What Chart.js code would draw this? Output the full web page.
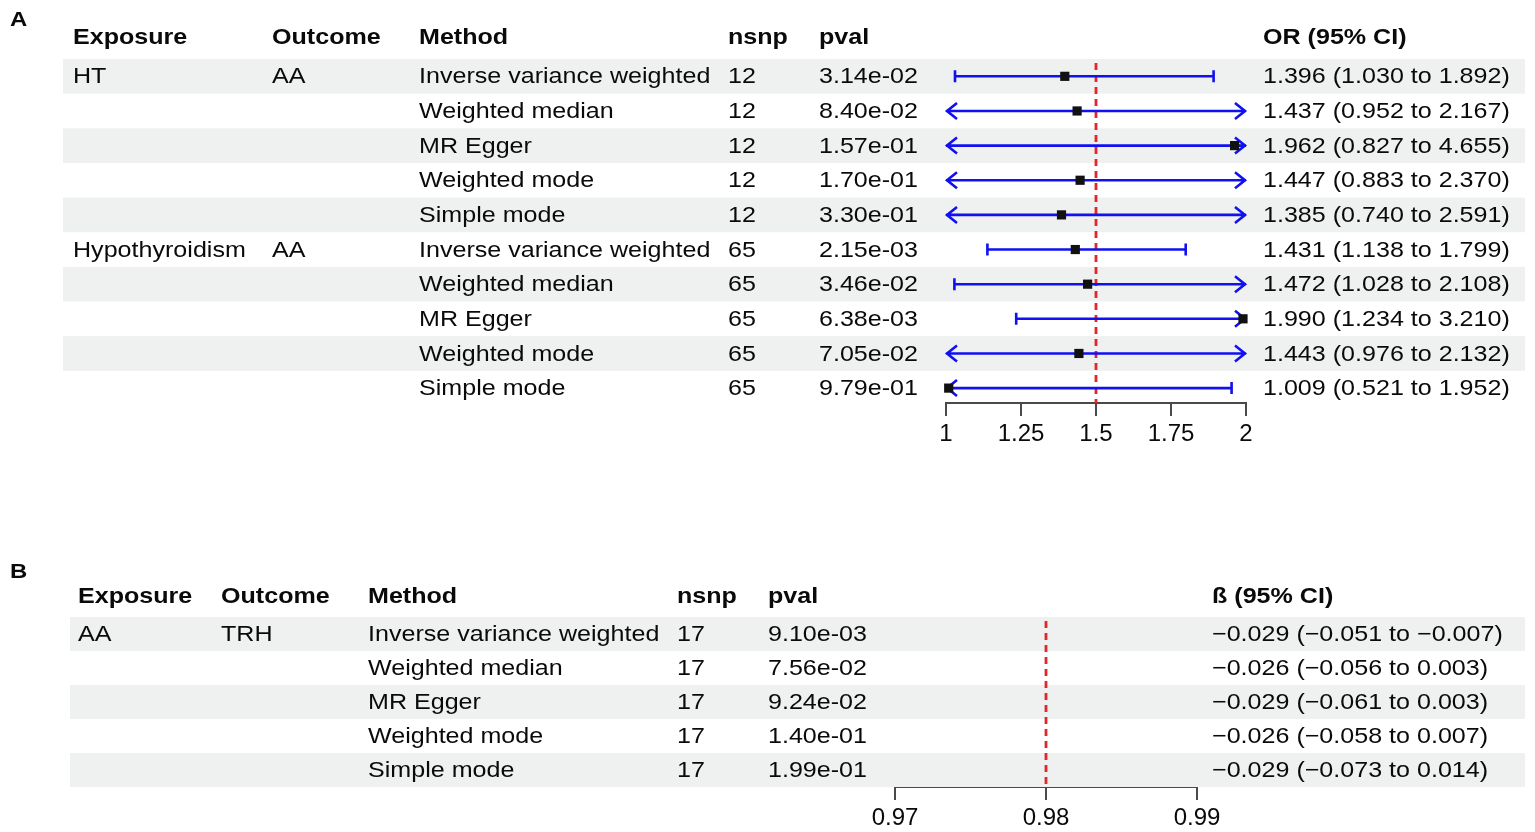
<!DOCTYPE html>
<html>
<head>
<meta charset="utf-8">
<script src="https://cdn.jsdelivr.net/npm/chart.js@4.4.1/dist/chart.umd.min.js"></script>
<style>
  html, body { margin: 0; padding: 0; background: #fff; }
  body { width: 1535px; height: 832px; position: relative; overflow: hidden; }
  canvas { position: absolute; left: 0; }
  #chartA { top: 0; }
  #chartB { top: 560px; }
</style>
</head>
<body>
<canvas id="chartA" width="1535" height="460"></canvas>
<canvas id="chartB" width="1535" height="272"></canvas>
<script>
// Panel A data
const methods = ['Inverse variance weighted', 'Weighted median', 'MR Egger', 'Weighted mode', 'Simple mode'];
const exposureA = ['HT', '', '', '', '', 'Hypothyroidism', '', '', '', ''];
const outcomeA = ['AA', '', '', '', '', 'AA', '', '', '', ''];
const nsnpA = [12, 12, 12, 12, 12, 65, 65, 65, 65, 65];
const pvalA = ['3.14e-02', '8.40e-02', '1.57e-01', '1.70e-01', '3.30e-01',
               '2.15e-03', '3.46e-02', '6.38e-03', '7.05e-02', '9.79e-01'];
const orA = [1.396, 1.437, 1.962, 1.447, 1.385, 1.431, 1.472, 1.990, 1.443, 1.009];
const loA = [1.030, 0.952, 0.827, 0.883, 0.740, 1.138, 1.028, 1.234, 0.976, 0.521];
const hiA = [1.892, 2.167, 4.655, 2.370, 2.591, 1.799, 2.108, 3.210, 2.132, 1.952];
const ticksA = [1, 1.25, 1.5, 1.75, 2];
const tickLabelsA = ['1', '1.25', '1.5', '1.75', '2'];
const refA = 1.5;

// Panel B data
const exposureB = ['AA', '', '', '', ''];
const outcomeB = ['TRH', '', '', '', ''];
const nsnpB = [17, 17, 17, 17, 17];
const pvalB = ['9.10e-03', '7.56e-02', '9.24e-02', '1.40e-01', '1.99e-01'];
const betaB = [-0.029, -0.026, -0.029, -0.026, -0.029];
const loB = [-0.051, -0.056, -0.061, -0.058, -0.073];
const hiB = [-0.007, 0.003, 0.003, 0.007, 0.014];
const ticksB = [0.97, 0.98, 0.99];
const tickLabelsB = ['0.97', '0.98', '0.99'];
const refB = 0.98;

const FONT = '"Liberation Sans", Arial, Helvetica, sans-serif';
const SX = 1.14;   // the figure is a bit stretched sideways

function fmt(v) {
  return v.toFixed(3).replace('-', '\u2212');
}

function txt(ctx, s, x, y, bold, size) {
  ctx.save();
  ctx.font = (bold ? 'bold ' : '') + (size || 22) + 'px ' + FONT;
  ctx.fillStyle = '#0a0a0a';
  ctx.textBaseline = 'middle';
  ctx.textAlign = 'left';
  ctx.translate(x, y);
  ctx.scale(SX, 1);
  ctx.fillText(s, 0, 0);
  ctx.restore();
}

// table + whiskers, drawn around the library's scales
function forestPlugin(cfg) {
  return {
    id: 'forest',
    beforeDatasetsDraw(chart) {
      const ctx = chart.ctx;
      const x = chart.scales.x, y = chart.scales.y;
      const pitch = Math.abs(y.getPixelForValue(1) - y.getPixelForValue(0));
      // stripes
      ctx.save();
      ctx.fillStyle = '#eef1ef';
      for (let i = 0; i < cfg.rows; i += 2) {
        const py = y.getPixelForValue(i);
        ctx.fillRect(cfg.stripeLeft, py - pitch / 2, 1525 - cfg.stripeLeft, pitch);
      }
      ctx.restore();

      // reference line
      const rx = x.getPixelForValue(cfg.ref);
      ctx.save();
      ctx.strokeStyle = '#e3262a';
      ctx.lineWidth = 2.8;
      ctx.setLineDash([7, 5]);
      ctx.beginPath();
      ctx.moveTo(rx, chart.chartArea.top + 4);
      ctx.lineTo(rx, chart.chartArea.bottom);
      ctx.stroke();
      ctx.restore();

      // confidence intervals
      ctx.save();
      ctx.strokeStyle = '#1010f0';
      ctx.lineWidth = 2.6;
      for (let i = 0; i < cfg.rows; i++) {
        const lo = cfg.lo[i], hi = cfg.hi[i];
        if (hi < x.min || lo > x.max) continue;
        const py = y.getPixelForValue(i);
        const x0 = x.getPixelForValue(Math.max(lo, x.min));
        const x1 = x.getPixelForValue(Math.min(hi, x.max));
        ctx.beginPath();
        ctx.moveTo(x0, py);
        ctx.lineTo(x1, py);
        if (lo < x.min) {
          ctx.moveTo(x0 + 11, py - 8); ctx.lineTo(x0 + 1, py); ctx.lineTo(x0 + 11, py + 8);
        } else {
          ctx.moveTo(x0, py - 6); ctx.lineTo(x0, py + 6);
        }
        if (hi > x.max) {
          ctx.moveTo(x1 - 11, py - 8); ctx.lineTo(x1 - 1, py); ctx.lineTo(x1 - 11, py + 8);
        } else {
          ctx.moveTo(x1, py - 6); ctx.lineTo(x1, py + 6);
        }
        ctx.stroke();
      }
      ctx.restore();
    },
    afterDraw(chart) {
      const ctx = chart.ctx;
      const y = chart.scales.y;
      const c = cfg.cols;
      txt(ctx, cfg.panel, 10, cfg.panelY, true, 21);
      txt(ctx, 'Exposure', c[0], cfg.headY, true);
      txt(ctx, 'Outcome', c[1], cfg.headY, true);
      txt(ctx, 'Method', c[2], cfg.headY, true);
      txt(ctx, 'nsnp', c[3], cfg.headY, true);
      txt(ctx, 'pval', c[4], cfg.headY, true);
      txt(ctx, cfg.estHead, c[5], cfg.headY, true);
      for (let i = 0; i < cfg.rows; i++) {
        const py = y.getPixelForValue(i) + 1;
        txt(ctx, cfg.exposure[i], c[0], py);
        txt(ctx, cfg.outcome[i], c[1], py);
        txt(ctx, methods[i % methods.length], c[2], py);
        txt(ctx, String(cfg.nsnp[i]), c[3], py);
        txt(ctx, cfg.pval[i], c[4], py);
        txt(ctx, fmt(cfg.est[i]) + ' (' + fmt(cfg.lo[i]) + ' to ' + fmt(cfg.hi[i]) + ')', c[5], py);
      }
    }
  };
}

function makeChart(id, cfg) {
  new Chart(document.getElementById(id), {
    type: 'scatter',
    data: {
      datasets: [{
        data: cfg.est.map((v, i) => ({ x: v, y: i })),
        pointStyle: 'rect',
        pointRadius: 6.5,
        pointHoverRadius: 6.5,
        backgroundColor: '#111',
        borderColor: '#111',
        borderWidth: 0,
        clip: false
      }]
    },
    options: {
      responsive: false,
      animation: false,
      events: [],
      layout: { padding: cfg.padding },
      plugins: { legend: { display: false }, tooltip: { enabled: false } },
      scales: {
        x: {
          type: 'linear',
          min: cfg.ticks[0],
          max: cfg.ticks[cfg.ticks.length - 1],
          afterBuildTicks: s => { s.ticks = cfg.ticks.map(v => ({ value: v })); },
          afterFit: s => { s.height = 40; },
          border: { display: true, color: '#4a4a4a', width: 2 },
          grid: { drawOnChartArea: false, drawTicks: true, tickLength: 13, color: '#4a4a4a', lineWidth: 2 },
          ticks: {
            padding: 4,
            color: '#0a0a0a',
            maxRotation: 0,
            autoSkip: false,
            font: { family: FONT, size: 24 },
            callback: (v, i) => cfg.tickLabels[i]
          }
        },
        y: {
          type: 'linear',
          display: false,
          reverse: true,
          min: -0.5,
          max: cfg.yMax
        }
      }
    },
    plugins: [forestPlugin(cfg)]
  });
}

makeChart('chartA', {
  panel: 'A', panelY: 20, headY: 38, rows: 10, stripeLeft: 63,
  cols: [73, 272, 419, 728, 819, 1263],
  estHead: 'OR (95% CI)',
  exposure: exposureA, outcome: outcomeA, nsnp: nsnpA, pval: pvalA,
  est: orA, lo: loA, hi: hiA, ref: refA,
  ticks: ticksA, tickLabels: tickLabelsA,
  yMax: 9.43,
  padding: { left: 946, right: 289, top: 59, bottom: 17 }
});

makeChart('chartB', {
  panel: 'B', panelY: 12, headY: 37, rows: 5, stripeLeft: 70,
  cols: [78, 221, 368, 677, 768, 1212],
  estHead: '\u00df (95% CI)',
  exposure: exposureB, outcome: outcomeB, nsnp: nsnpB, pval: pvalB,
  est: betaB, lo: loB, hi: hiB, ref: refB,
  ticks: ticksB, tickLabels: tickLabelsB,
  yMax: 4.5,
  padding: { left: 895, right: 338, top: 57, bottom: 5 }
});
</script>
</body>
</html>
